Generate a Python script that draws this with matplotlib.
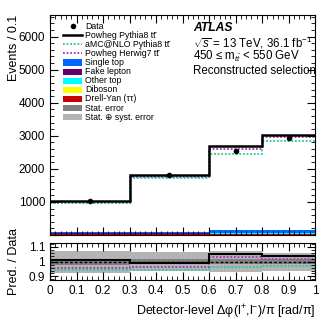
import numpy as np
import matplotlib
matplotlib.use("Agg")
import matplotlib.pyplot as plt
from matplotlib.lines import Line2D
from matplotlib.patches import Rectangle
from matplotlib.ticker import MultipleLocator, FuncFormatter

plt.rcParams['font.family'] = ['Liberation Sans', 'DejaVu Sans']
plt.rcParams['mathtext.fontset'] = 'custom'
plt.rcParams['mathtext.rm'] = 'Liberation Sans'
plt.rcParams['mathtext.it'] = 'Liberation Sans:italic'

# bins of detector-level delta phi / pi
edges = [0.0, 0.3, 0.6, 0.8, 1.0]
centers = [0.15, 0.45, 0.7, 0.9]

# events / 0.1
data = [1020, 1830, 2545, 2920]
powheg_py8 = [1031, 1812, 2680, 3030]
amcnlo_py8 = [959, 1731, 2451, 2838]
powheg_hw7 = [976, 1762, 2616, 2970]

# backgrounds (stacked, bottom first)
drell_yan = [35, 35, 40, 40]
diboson = [3, 3, 4, 4]
other_top = [5, 5, 8, 8]
fake_lepton = [8, 8, 12, 12]
single_top = [35, 35, 85, 95]

# relative uncertainties for the ratio panel
stat_err = [0.02, 0.015, 0.015, 0.015]
tot_err = [0.075, 0.065, 0.07, 0.06]

c_hw7 = '#aa33bb'
c_amc = '#22cc99'

fig = plt.figure(figsize=(3.32, 3.22), dpi=100)
ax = fig.add_axes([0.1506, 0.270, 0.7984, 0.683])
rax = fig.add_axes([0.1506, 0.130, 0.7984, 0.115])

# stacked backgrounds
bkg = [(drell_yan, '#cc0000'),
       (diboson, '#ffff00'),
       (other_top, '#00ffff'),
       (fake_lepton, '#660066'),
       (single_top, '#0066ff')]
base = np.zeros(4)
for vals, col in bkg:
    top = base + np.array(vals)
    ax.stairs(top, edges, baseline=base, fill=True, color=col, lw=0)
    base = top

ax.stairs(powheg_hw7, edges, color=c_hw7, lw=1.3, ls=(0, (1, 1)), baseline=None)
ax.stairs(amcnlo_py8, edges, color=c_amc, lw=1.3, ls=(0, (1, 1)), baseline=None)
ax.stairs(powheg_py8, edges, color='black', lw=1.8, baseline=None)
ax.errorbar(centers, data, yerr=np.sqrt(data), fmt='o', color='black', ms=3, lw=1, capsize=0)

ax.set_xlim(0, 1)
ax.set_ylim(0, 6650)
ax.set_ylabel('Events / 0.1', fontsize=9, loc='top')
ax.yaxis.set_major_locator(MultipleLocator(1000))
ax.yaxis.set_minor_locator(MultipleLocator(200))
ax.xaxis.set_major_locator(MultipleLocator(0.1))
ax.xaxis.set_minor_locator(MultipleLocator(0.02))
ax.yaxis.set_major_formatter(FuncFormatter(lambda v, p: '' if v == 0 else '%d' % v))
ax.tick_params(axis='x', labelbottom=False)

# legend, drawn row by row so the spacing stays even
tt = 'tt\u0304'
labels = ['Data', 'Powheg Pythia8 ' + tt, 'aMC@NLO Pythia8 ' + tt,
          'Powheg Herwig7 ' + tt, 'Single top', 'Fake lepton', 'Other top',
          'Diboson', 'Drell-Yan (ττ)', 'Stat. error', 'Stat. ⊕ syst. error']
kinds = ['marker', ('black', '-', 1.8), (c_amc, (0, (1, 1)), 1.3), (c_hw7, (0, (1, 1)), 1.3),
         '#0066ff', '#660066', '#00ffff', '#ffff00', '#cc0000', '#808080', '#b4b4b4']
x0, x1, xt = 0.049, 0.121, 0.132
y_first, dy = 0.950, 0.0414
for i, (lab, kind) in enumerate(zip(labels, kinds)):
    y = y_first - i * dy
    if kind == 'marker':
        ax.plot([(x0 + x1) / 2], [y], 'o', color='black', ms=3, transform=ax.transAxes)
    elif isinstance(kind, tuple):
        ax.add_line(Line2D([x0, x1], [y, y], color=kind[0], ls=kind[1], lw=kind[2],
                           transform=ax.transAxes))
    else:
        ax.add_patch(Rectangle((x0, y - 0.014), x1 - x0, 0.028, color=kind, lw=0,
                               transform=ax.transAxes))
    ax.text(xt, y, lab, transform=ax.transAxes, fontsize=6.3, va='center')

tx = 0.54
ax.text(tx, 0.940, 'ATLAS', transform=ax.transAxes, fontsize=8.7, va='center',
        fontweight='bold', fontstyle='italic')
ax.text(tx, 0.876, '$\\sqrt{s}$ = 13 TeV, 36.1 fb$^{-1}$', transform=ax.transAxes,
        fontsize=8.3, va='center')
ax.text(tx, 0.810, '450 ≤ m$_{t\\bar{t}}$ < 550 GeV', transform=ax.transAxes,
        fontsize=8.3, va='center')
ax.text(tx, 0.746, 'Reconstructed selection', transform=ax.transAxes, fontsize=8.3,
        va='center')

# ratio panel
ones = np.ones(4)
rax.stairs(ones + np.array(tot_err), edges, baseline=ones - np.array(tot_err),
           fill=True, color='#b4b4b4', lw=0)
rax.stairs(ones + np.array(stat_err), edges, baseline=ones - np.array(stat_err),
           fill=True, color='#808080', lw=0)
rax.axhline(1, color='black', lw=1, ls=(0, (2, 1.5)))
rax.stairs(np.array(powheg_hw7) / data, edges, color=c_hw7, lw=1.3, ls=(0, (1, 1)), baseline=None)
rax.stairs(np.array(amcnlo_py8) / data, edges, color=c_amc, lw=1.3, ls=(0, (1, 1)), baseline=None)
rax.stairs(np.array(powheg_py8) / data, edges, color='black', lw=1.5, baseline=None)

rax.set_xlim(0, 1)
rax.set_ylim(0.875, 1.125)
rax.yaxis.set_major_locator(MultipleLocator(0.1))
rax.yaxis.set_minor_locator(MultipleLocator(0.02))
rax.xaxis.set_major_locator(MultipleLocator(0.1))
rax.xaxis.set_minor_locator(MultipleLocator(0.02))
rax.xaxis.set_major_formatter(FuncFormatter(lambda v, p: '%g' % round(v, 2)))
rax.yaxis.set_major_formatter(FuncFormatter(lambda v, p: '%g' % round(v, 2)))
rax.set_ylabel('Pred. / Data', fontsize=9)
rax.yaxis.set_label_coords(-0.115, 0.5)
rax.set_xlabel('Detector-level Δφ(l$^{+}$,l$^{-}$)/π [rad/π]', fontsize=9, loc='right')

for a in (ax, rax):
    a.tick_params(which='both', direction='in', top=True, right=True, labelsize=8.5)
    a.tick_params(which='major', length=6)
    a.tick_params(which='minor', length=3)

ax.yaxis.set_label_coords(-0.115, 1.0)

fig.savefig('out.png', dpi=100)
